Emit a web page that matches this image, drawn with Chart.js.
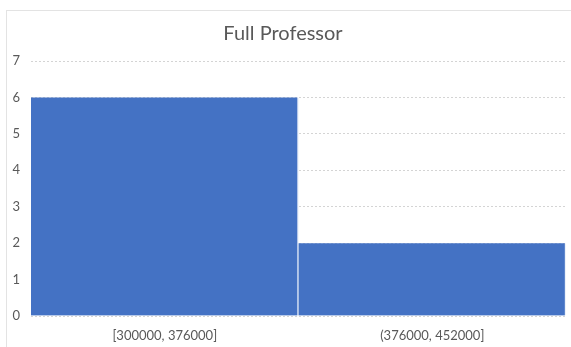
<!DOCTYPE html>
<html>
<head>
<meta charset="utf-8">
<script src="https://cdn.jsdelivr.net/npm/chart.js@4"></script>
<style>
  html, body { margin: 0; padding: 0; background: #ffffff; }
  #wrap { width: 571px; height: 347px; position: relative; }
</style>
</head>
<body>
<div id="wrap"><canvas id="chart" width="571" height="347"></canvas></div>
<script>
// Histogram bins and counts
const binLabels = ['[300000, 376000]', '(376000, 452000]'];
const counts = [6, 2];
const yTicks = [0, 1, 2, 3, 4, 5, 6, 7];
const chartTitle = 'Full Professor';

// Thin outer frame around the chart
const framePlugin = {
  id: 'frame',
  beforeDraw(chart) {
    const ctx = chart.ctx;
    ctx.save();
    ctx.strokeStyle = '#e3e3e3';
    ctx.lineWidth = 1;
    ctx.strokeRect(6.5, 10.5, 580, 360);
    ctx.restore();
  }
};

new Chart(document.getElementById('chart'), {
  type: 'bar',
  data: {
    labels: binLabels,
    datasets: [{
      data: counts,
      backgroundColor: '#4472C4',
      borderColor: 'rgba(235,241,250,0.9)',
      borderWidth: { left: 0, top: 0, bottom: 0, right: 1.5 },
      borderSkipped: false,
      categoryPercentage: 1.0,
      barPercentage: 1.0
    }]
  },
  options: {
    responsive: false,
    animation: false,
    devicePixelRatio: 1,
    layout: { padding: { left: 0, right: 5, top: 10, bottom: 0 } },
    plugins: {
      legend: { display: false },
      tooltip: { enabled: false },
      title: {
        display: true,
        text: chartTitle,
        color: '#595959',
        font: { family: 'Lato', size: 20, weight: 'normal' },
        padding: { top: 12, bottom: 15 }
      }
    },
    scales: {
      x: {
        grid: { display: false, drawTicks: false },
        border: { display: false },
        ticks: {
          color: '#595959',
          font: { family: 'Lato', size: 13 },
          padding: 12,
          maxRotation: 0
        },
        afterFit(scale) { scale.height = 31; }
      },
      y: {
        min: 0,
        max: 7,
        afterBuildTicks(scale) { scale.ticks = yTicks.map(v => ({ value: v })); },
        grid: { color: '#d4d4d4', lineWidth: 1, drawTicks: false },
        border: { display: false, dash: [2, 2] },
        ticks: {
          color: '#595959',
          font: { family: 'Lato', size: 13 },
          padding: 11
        },
        afterFit(scale) { scale.width = 31; }
      }
    }
  },
  plugins: [framePlugin]
});
</script>
</body>
</html>
